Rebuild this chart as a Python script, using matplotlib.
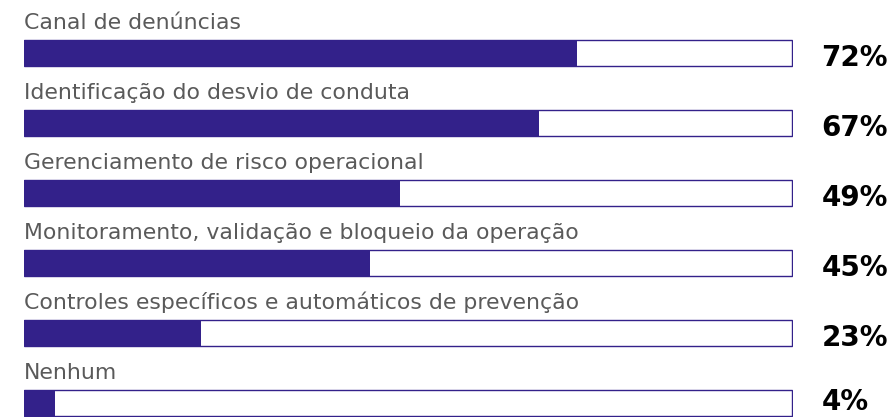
import matplotlib.pyplot as plt

categorias = ["Canal de denúncias",
              "Identificação do desvio de conduta",
              "Gerenciamento de risco operacional",
              "Monitoramento, validação e bloqueio da operação",
              "Controles específicos e automáticos de prevenção",
              "Nenhum"]
valores = [72, 67, 49, 45, 23, 4]

roxo = "#33218a"

fig = plt.figure(figsize=(8.94, 4.17), dpi=100)
ax = fig.add_axes([24 / 894, 0, 769 / 894, 1])
ax.set_xlim(0, 100.1)
ax.set_ylim(5.2, -0.757)
ax.axis("off")

pos = list(range(len(valores)))
# fundo branco com borda (100%)
ax.barh(pos, [100] * len(valores), height=0.37, color="white",
        edgecolor=roxo, linewidth=1)
ax.barh(pos, valores, height=0.37, color=roxo, linewidth=0)

for i, (cat, v) in enumerate(zip(categorias, valores)):
    ax.text(0, i - 0.343, cat, fontsize=15.8, color="#5a5a5a",
            family="DejaVu Sans", va="baseline", ha="left")
    if i < 5:
        ax.text(103.8, i + 0.19, f"{v}%", fontsize=20, fontweight="bold",
                color="black", family="DejaVu Sans", va="baseline",
                ha="left", clip_on=False)
    else:
        # ultima linha encosta na borda de baixo
        ax.text(103.8, 5.19, f"{v}%", fontsize=20, fontweight="bold",
                color="black", family="DejaVu Sans", va="bottom",
                ha="left", clip_on=False)

fig.savefig("out.png", dpi=100)
